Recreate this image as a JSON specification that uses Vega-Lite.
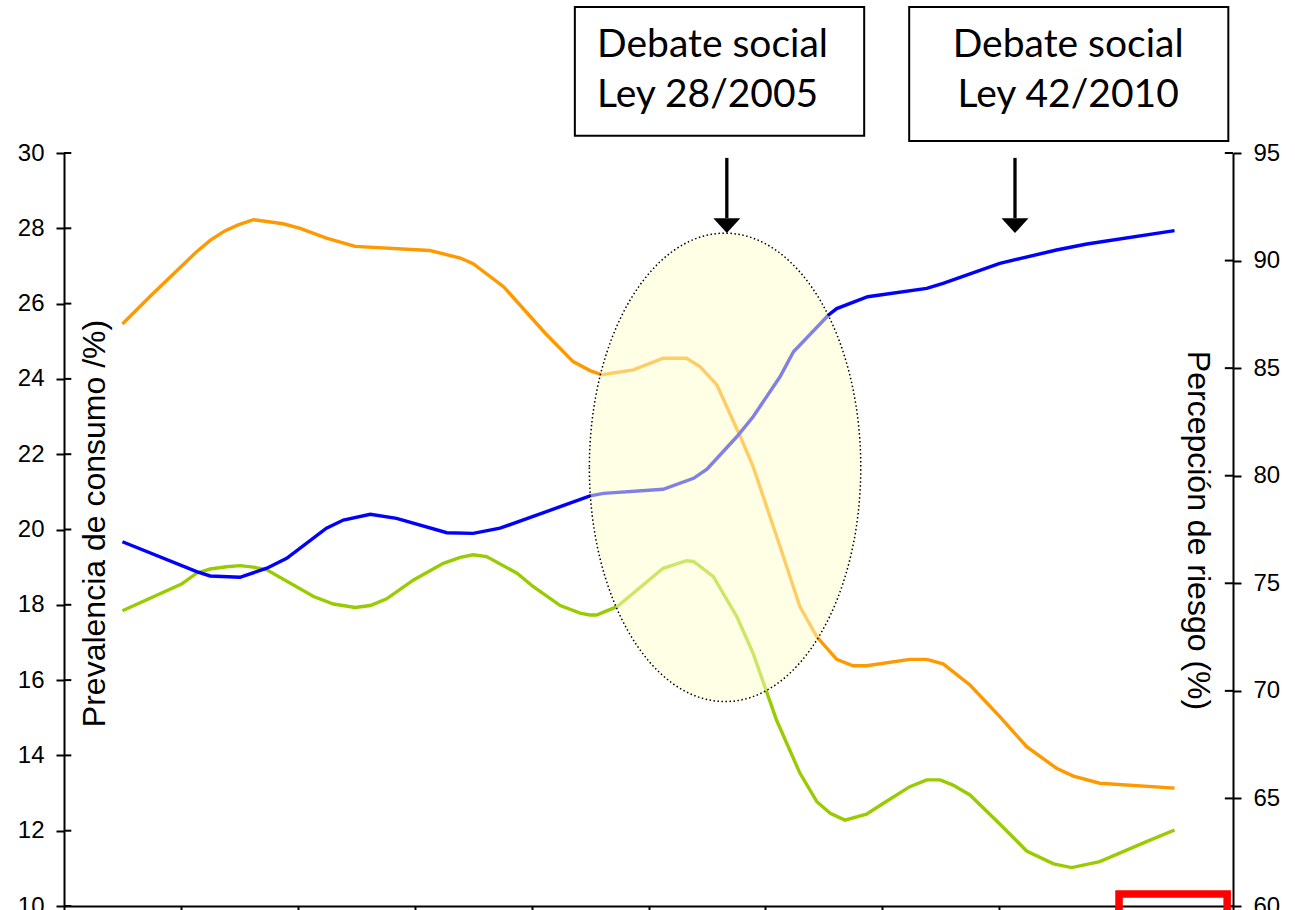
{
  "$schema": "https://vega.github.io/schema/vega-lite/v6.json",
  "width": 1169,
  "height": 753,
  "autosize": "none",
  "padding": {"left": 64, "top": 153, "right": 62, "bottom": 4},
  "background": "white",
  "config": {
    "view": {"stroke": null},
    "axis": {"grid": false, "domainColor": "black", "tickColor": "black", "labelColor": "black", "titleColor": "black", "labelFont": "Liberation Sans", "titleFont": "Liberation Sans", "titleFontWeight": "normal", "domainWidth": 2, "tickWidth": 2}
  },
  "datasets": {
    "orange": [
      {"year":1994.0,"v":25.46},{"year":1994.47,"v":26.19},{"year":1995.27,"v":27.38},{"year":1995.50,"v":27.68},{"year":1995.75,"v":27.93},{"year":1995.98,"v":28.09},{"year":1996.24,"v":28.23},{"year":1996.75,"v":28.12},{"year":1997.04,"v":28.00},{"year":1997.49,"v":27.74},{"year":1997.98,"v":27.52},{"year":1999.26,"v":27.41},{"year":1999.78,"v":27.21},{"year":2000.00,"v":27.06},{"year":2000.52,"v":26.45},{"year":2001.23,"v":25.22},{"year":2001.71,"v":24.46},{"year":2002.00,"v":24.22},{"year":2002.20,"v":24.11},{"year":2002.74,"v":24.24},{"year":2003.25,"v":24.55},{"year":2003.65,"v":24.55},{"year":2003.88,"v":24.33},{"year":2004.17,"v":23.84},{"year":2004.57,"v":22.47},{"year":2004.79,"v":21.67},{"year":2005.25,"v":19.55},{"year":2005.59,"v":17.95},{"year":2005.88,"v":17.15},{"year":2006.22,"v":16.55},{"year":2006.50,"v":16.38},{"year":2006.73,"v":16.38},{"year":2007.47,"v":16.55},{"year":2007.76,"v":16.55},{"year":2008.04,"v":16.43},{"year":2008.50,"v":15.87},{"year":2009.01,"v":15.03},{"year":2009.47,"v":14.23},{"year":2009.98,"v":13.66},{"year":2010.27,"v":13.45},{"year":2010.72,"v":13.26},{"year":2012.0,"v":13.13}
    ],
    "green": [
      {"year":1994.0,"v":17.84},{"year":1995.01,"v":18.55},{"year":1995.27,"v":18.84},{"year":1995.50,"v":18.95},{"year":1995.78,"v":19.01},{"year":1996.01,"v":19.04},{"year":1996.24,"v":19.00},{"year":1996.47,"v":18.93},{"year":1997.27,"v":18.22},{"year":1997.61,"v":18.02},{"year":1997.98,"v":17.93},{"year":1998.24,"v":17.98},{"year":1998.52,"v":18.16},{"year":1998.98,"v":18.66},{"year":1999.49,"v":19.10},{"year":1999.78,"v":19.26},{"year":2000.00,"v":19.33},{"year":2000.23,"v":19.28},{"year":2000.75,"v":18.84},{"year":2001.03,"v":18.48},{"year":2001.49,"v":17.98},{"year":2001.83,"v":17.78},{"year":2002.00,"v":17.73},{"year":2002.11,"v":17.73},{"year":2002.46,"v":17.95},{"year":2003.25,"v":18.97},{"year":2003.65,"v":19.17},{"year":2003.77,"v":19.15},{"year":2004.11,"v":18.75},{"year":2004.51,"v":17.69},{"year":2004.79,"v":16.71},{"year":2005.19,"v":14.94},{"year":2005.59,"v":13.53},{"year":2005.88,"v":12.77},{"year":2006.11,"v":12.46},{"year":2006.36,"v":12.28},{"year":2006.73,"v":12.44},{"year":2007.02,"v":12.73},{"year":2007.47,"v":13.17},{"year":2007.76,"v":13.35},{"year":2007.99,"v":13.35},{"year":2008.21,"v":13.21},{"year":2008.50,"v":12.95},{"year":2009.01,"v":12.18},{"year":2009.47,"v":11.46},{"year":2009.93,"v":11.12},{"year":2010.24,"v":11.02},{"year":2010.72,"v":11.18},{"year":2011.52,"v":11.71},{"year":2012.0,"v":12.02}
    ],
    "blue": [
      {"year":1994.0,"v":76.93},{"year":1995.27,"v":75.54},{"year":1995.50,"v":75.34},{"year":1996.01,"v":75.28},{"year":1996.47,"v":75.70},{"year":1996.81,"v":76.16},{"year":1997.49,"v":77.56},{"year":1997.78,"v":77.94},{"year":1998.24,"v":78.21},{"year":1998.69,"v":78.02},{"year":1999.55,"v":77.35},{"year":2000.00,"v":77.32},{"year":2000.46,"v":77.56},{"year":2001.49,"v":78.56},{"year":2002.00,"v":79.06},{"year":2002.23,"v":79.18},{"year":2003.25,"v":79.37},{"year":2003.77,"v":79.88},{"year":2004.00,"v":80.30},{"year":2004.51,"v":81.81},{"year":2004.79,"v":82.74},{"year":2005.25,"v":84.60},{"year":2005.48,"v":85.76},{"year":2006.08,"v":87.47},{"year":2006.22,"v":87.77},{"year":2006.75,"v":88.32},{"year":2007.76,"v":88.71},{"year":2008.04,"v":88.94},{"year":2009.01,"v":89.87},{"year":2009.98,"v":90.49},{"year":2010.50,"v":90.77},{"year":2012.0,"v":91.39}
    ],
    "ltick": [
      {"year":1993,"year2":1993.125,"v":10},{"year":1993,"year2":1993.125,"v":12},{"year":1993,"year2":1993.125,"v":14},{"year":1993,"year2":1993.125,"v":16},{"year":1993,"year2":1993.125,"v":18},{"year":1993,"year2":1993.125,"v":20},{"year":1993,"year2":1993.125,"v":22},{"year":1993,"year2":1993.125,"v":24},{"year":1993,"year2":1993.125,"v":26},{"year":1993,"year2":1993.125,"v":28},{"year":1993,"year2":1993.125,"v":30}
    ],
    "rtick": [
      {"year":2012.86,"year2":2013,"v":60},{"year":2012.86,"year2":2013,"v":65},{"year":2012.86,"year2":2013,"v":70},{"year":2012.86,"year2":2013,"v":75},{"year":2012.86,"year2":2013,"v":80},{"year":2012.86,"year2":2013,"v":85},{"year":2012.86,"year2":2013,"v":90},{"year":2012.86,"year2":2013,"v":95}
    ],
    "ellipse": [{"year":2004.31,"v":21.65}],
    "arrows": [
      {"year":2004.34,"v":29.87,"v2":28.27,"vh":28.07},
      {"year":2009.27,"v":29.87,"v2":28.27,"vh":28.07}
    ],
    "boxes": [
      {"year":2001.74,"year2":2006.69,"v":33.88,"v2":30.46},
      {"year":2007.46,"year2":2012.92,"v":33.88,"v2":30.32}
    ],
    "labels1": [
      {"year":2002.12,"v":32.56,"text":"Debate social"},
      {"year":2002.12,"v":31.23,"text":"Ley 28/2005"}
    ],
    "labels2": [
      {"year":2010.18,"v":32.56,"text":"Debate social"},
      {"year":2010.18,"v":31.23,"text":"Ley 42/2010"}
    ],
    "redbox": [{"year":2011.05,"year2":2012.9,"v":10.32,"v2":9.6}]
  },
  "encoding": {
    "x": {
      "field": "year", "type": "quantitative",
      "scale": {"domain": [1993, 2013], "nice": false, "zero": false},
      "axis": {"orient": "bottom", "values": [1993,1995,1997,1999,2001,2003,2005,2007,2009,2011,2013], "labels": false, "title": null, "tickSize": 6}
    }
  },
  "resolve": {"scale": {"y": "independent"}},
  "layer": [
    {
      "encoding": {
        "y": {
          "field": "v", "type": "quantitative",
          "scale": {"domain": [10, 30], "nice": false, "zero": false},
          "axis": {"orient": "left", "values": [10,12,14,16,18,20,22,24,26,28,30], "labelFontSize": 24, "labelPadding": 12, "tickSize": 8, "labelFlush": false, "labelOverlap": false, "labelBound": false, "title": "Prevalencia de consumo /%)", "titleFontSize": 32, "titleAngle": 270, "titleX": 30, "titleY": 370, "titleAlign": "center", "titleBaseline": "middle", "titleLimit": 1000}
        }
      },
      "layer": [
        {"data": {"name": "orange"}, "mark": {"type": "line", "color": "#FF9900", "strokeWidth": 3.4}},
        {"data": {"name": "green"}, "mark": {"type": "line", "color": "#99CC00", "strokeWidth": 3.4}},
        {"data": {"name": "ltick"}, "mark": {"type": "rule", "color": "black", "strokeWidth": 2}, "encoding": {"x2": {"field": "year2"}}}
      ]
    },
    {
      "encoding": {
        "y": {
          "field": "v", "type": "quantitative",
          "scale": {"domain": [60, 95], "nice": false, "zero": false},
          "axis": {"orient": "right", "values": [60,65,70,75,80,85,90,95], "labelFontSize": 24, "labelPadding": 12, "tickSize": 8, "labelFlush": false, "labelOverlap": false, "labelBound": false, "title": "Percepción de riesgo (%)", "titleFontSize": 32, "titleAngle": 90, "titleX": -36, "titleY": 377, "titleAlign": "center", "titleBaseline": "middle", "titleLimit": 1000}
        }
      },
      "layer": [
        {"data": {"name": "blue"}, "mark": {"type": "line", "color": "#0000FF", "strokeWidth": 3.4}},
        {"data": {"name": "rtick"}, "mark": {"type": "rule", "color": "black", "strokeWidth": 2}, "encoding": {"x2": {"field": "year2"}}}
      ]
    },
    {
      "encoding": {
        "y": {"field": "v", "type": "quantitative", "scale": {"domain": [10, 30], "nice": false, "zero": false}, "axis": null}
      },
      "layer": [
        {"data": {"name": "ellipse"}, "mark": {"type": "point", "shape": "M -0.5794 0 A 0.5794 1 0 1 0 0.5794 0 A 0.5794 1 0 1 0 -0.5794 0 Z", "size": 219400, "filled": true, "fill": "#FFFFCC", "fillOpacity": 0.5, "opacity": 1, "stroke": "black", "strokeOpacity": 1, "strokeWidth": 1.5, "strokeDash": [1.5, 2.5]}},
        {"data": {"name": "arrows"}, "mark": {"type": "rule", "color": "black", "strokeWidth": 3.3}, "encoding": {"y2": {"field": "v2"}}},
        {"data": {"name": "arrows"}, "mark": {"type": "point", "shape": "M -1 -0.55 L 1 -0.55 L 0 0.55 Z", "size": 729, "filled": true, "fill": "black", "opacity": 1, "strokeWidth": 0}, "encoding": {"y": {"field": "vh", "type": "quantitative"}}},
        {"data": {"name": "boxes"}, "mark": {"type": "rect", "fill": "white", "stroke": "black", "strokeWidth": 2}, "encoding": {"x2": {"field": "year2"}, "y2": {"field": "v2"}}},
        {"data": {"name": "labels1"}, "mark": {"type": "text", "align": "left", "baseline": "alphabetic", "font": "Lato", "fontSize": 39, "color": "black"}, "encoding": {"text": {"field": "text"}}},
        {"data": {"name": "labels2"}, "mark": {"type": "text", "align": "center", "baseline": "alphabetic", "font": "Lato", "fontSize": 39, "color": "black"}, "encoding": {"text": {"field": "text"}}},
        {"data": {"name": "redbox"}, "mark": {"type": "rect", "fill": null, "fillOpacity": 0, "stroke": "#FF0000", "strokeWidth": 7.5}, "encoding": {"x2": {"field": "year2"}, "y2": {"field": "v2"}}}
      ]
    }
  ]
}
